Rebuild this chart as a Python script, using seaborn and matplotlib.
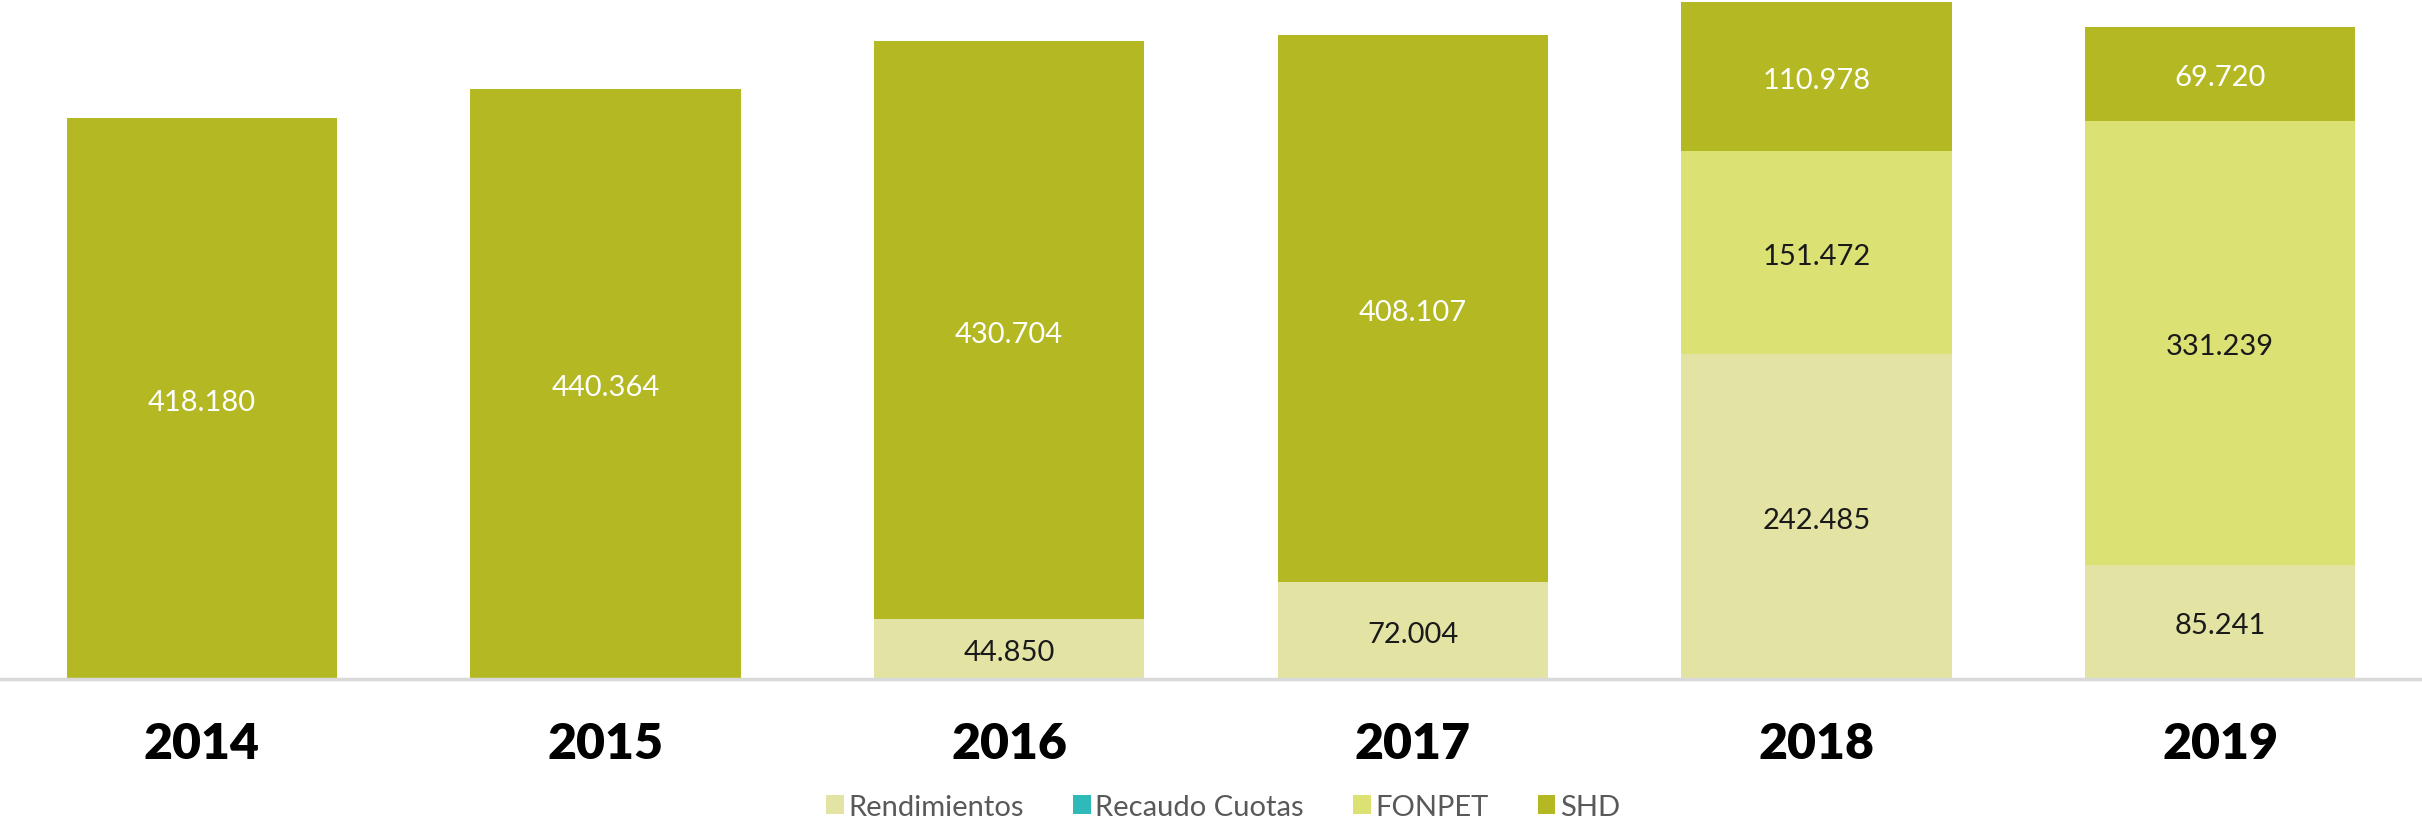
import matplotlib
matplotlib.use("Agg")
import matplotlib.pyplot as plt
from matplotlib.patches import Patch
import seaborn as sns
import numpy as np
import pandas as pd

years = ["2014", "2015", "2016", "2017", "2018", "2019"]
series_names = ["Rendimientos", "Recaudo Cuotas", "FONPET", "SHD"]
rendimientos = [0, 0, 44850, 72004, 242485, 85241]
recaudo_cuotas = [0, 0, 0, 0, 0, 0]
fonpet = [0, 0, 0, 0, 151472, 331239]
shd = [418180, 440364, 430704, 408107, 110978, 69720]

colors = {"Rendimientos": "#E3E4A3", "Recaudo Cuotas": "#2FB9B8",
          "FONPET": "#DBE273", "SHD": "#B4B823"}
label_colors = {"Rendimientos": "#1a1a1a", "Recaudo Cuotas": "#1a1a1a",
                "FONPET": "#1a1a1a", "SHD": "#ffffff"}

sns.set_theme(style="white")
plt.rcParams["font.family"] = ["Lato", "DejaVu Sans"]

fig = plt.figure(figsize=(24.22, 8.28), dpi=100)
ax = fig.add_axes([0, 1 - 680 / 828, 1, 680 / 828])

data = {"Rendimientos": rendimientos, "Recaudo Cuotas": recaudo_cuotas,
        "FONPET": fonpet, "SHD": shd}
df = pd.DataFrame(data, index=years)
cum = df.cumsum(axis=1)

# draw from the top layer down so lower layers overlay
for name in reversed(series_names):
    sns.barplot(x=years, y=cum[name].values, color=colors[name], width=0.67,
                saturation=1, ax=ax, order=years, linewidth=0)

bottoms = cum - df
for name in series_names:
    for i, y in enumerate(years):
        v = df.loc[y, name]
        if v > 0:
            yc = bottoms.loc[y, name] + v / 2
            ax.text(i, yc - 2500, f"{v:,}".replace(",", "."), ha="center", va="center",
                    fontsize=21, color=label_colors[name], fontweight="normal")

ax.set_xlim(-0.5, 5.5)
ax.set_ylim(0, 507200)
ax.set_yticks([])
ax.set_ylabel("")
for s in ["top", "left", "right"]:
    ax.spines[s].set_visible(False)
ax.spines["bottom"].set_color("#D9D9D9")
ax.spines["bottom"].set_linewidth(2.5)
ax.tick_params(axis="x", length=0, pad=30)
for lbl in ax.get_xticklabels():
    lbl.set_fontsize(36)
    lbl.set_fontweight("heavy")
    lbl.set_color("black")

handles = [Patch(facecolor=colors[n], edgecolor="none", label=n) for n in series_names]
leg = fig.legend(handles=handles, loc="center", bbox_to_anchor=(0.505, 1 - 808 / 828),
                 ncol=4, frameon=False, fontsize=21, handlelength=0.6,
                 handleheight=0.6, handletextpad=0.15, columnspacing=1.7)
for t in leg.get_texts():
    t.set_color("#595959")
    t.set_fontweight("normal")

fig.savefig("out.png", dpi=100)
